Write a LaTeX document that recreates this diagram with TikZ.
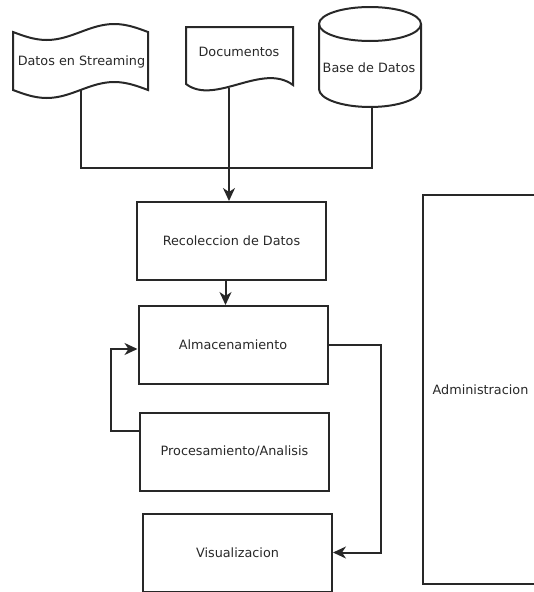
\documentclass[tikz,border=0pt]{standalone}
\usepackage{fontspec}
\setmainfont{DejaVu Sans}
\usepackage{tikz}
\usetikzlibrary{arrows.meta}
\definecolor{ink}{RGB}{40,40,40}

\begin{document}
\begin{tikzpicture}[x=1pt,y=1pt,yscale=-1,xscale=1,
  txt/.style={text=ink,font=\fontsize{12.8}{15}\selectfont,inner sep=0.75pt},
  box/.style={txt,draw=ink,line width=2pt,minimum width=189pt,minimum height=78pt},
  wire/.style={draw=ink,line width=2pt},
  flow/.style={wire,-{Stealth[length=13pt,width=12pt,inset=4pt]}}]
\useasboundingbox (0,0) rectangle (534,592);

%Tape [Datos en Streaming]
\draw [wire] (13,32) sin (46.75,40) cos (80.5,32) sin (114.25,24) cos (148,32) -- (148,90) sin (114.25,82) cos (80.5,90) sin (46.75,98) cos (13,90) -- cycle ;
%Document [Documentos]
\draw [wire] (186,84) -- (186,27) -- (293,27) -- (293,85) .. controls (262,62) and (215,106) .. (186,84) -- cycle ;
%Cylinder [Base de Datos]
\draw [wire] (370,24) ellipse [x radius=51, y radius=17] ;
\draw [wire] (319,24) -- (319,89) arc [start angle=180, end angle=0, x radius=51, y radius=18] -- (421,24) ;

% Text Node
\node [txt] (stream) at (81.5,62) {Datos en Streaming};
% Text Node
\node [txt] (docs) at (239,52) {Documentos};
% Text Node
\node [txt] (base) at (369,68) {Base de Datos};

% Boxes
\node [box] (recol) at (231.5,241) {Recoleccion de Datos};
\node [box] (alma) at (233,345) {Almacenamiento};
\node [box] (proc) at (234.5,451.5) {Procesamiento/Analisis};
\node [box] (visu) at (237.5,552.5) {Visualizacion};
\node [box,minimum width=115pt,minimum height=389pt] (admin) at (480.5,389.5) {Administracion};

\coordinate (streamout) at (81,90);
\coordinate (docsout) at (229,88);
\coordinate (baseout) at (372,107);
\coordinate (merge) at (229,168);

%Connectors
\draw [wire] (streamout) |- (merge) -| (baseout) ;
\draw [flow] (docsout) -- (docsout |- recol.north) ;
\draw [flow] ([xshift=-6pt]recol.south) -- ([xshift=-6pt]recol.south |- alma.north) ;
\draw [flow] ([yshift=-20.5pt]proc.west) -- ++(-28,0) |- ([yshift=4pt]alma.west) ;
\draw [flow] (alma.east) -- ++(52,0) |- (visu.east) ;

\end{tikzpicture}
\end{document}
